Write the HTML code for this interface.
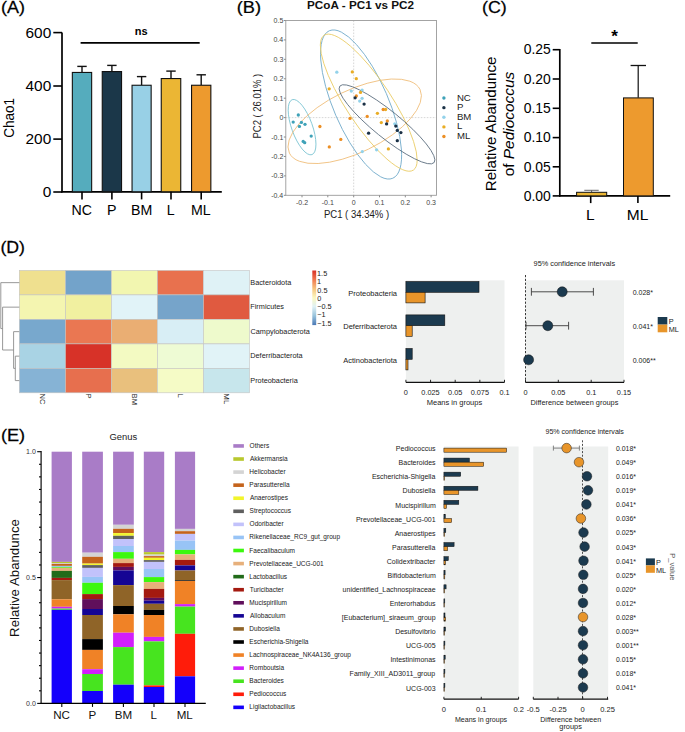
<!DOCTYPE html>
<html><head><meta charset="utf-8"><style>
html,body{margin:0;padding:0;background:#fff;}
svg{display:block;}
text{font-family:"Liberation Sans",sans-serif;}
</style></head><body>
<svg width="685" height="732" viewBox="0 0 685 732">
<rect width="685" height="732" fill="#fff"/>
<text transform="translate(1.09,13.00) scale(1.0558,1)" style="font-size:17px;" fill="#000" stroke="#000" stroke-width="0.25">(A)</text>
<line x1="62.00" y1="32.60" x2="62.00" y2="192.50" stroke="#000" stroke-width="1.7"/>
<line x1="53.30" y1="32.60" x2="62.00" y2="32.60" stroke="#000" stroke-width="1.6"/>
<text transform="translate(25.51,37.80)" style="font-size:15.4px;" fill="#000">600</text>
<line x1="53.30" y1="86.00" x2="62.00" y2="86.00" stroke="#000" stroke-width="1.6"/>
<text transform="translate(25.51,91.20)" style="font-size:15.4px;" fill="#000">400</text>
<line x1="53.30" y1="139.10" x2="62.00" y2="139.10" stroke="#000" stroke-width="1.6"/>
<text transform="translate(25.51,144.30)" style="font-size:15.4px;" fill="#000">200</text>
<line x1="53.30" y1="192.00" x2="62.00" y2="192.00" stroke="#000" stroke-width="1.6"/>
<text transform="translate(42.64,197.20)" style="font-size:15.4px;" fill="#000">0</text>
<line x1="61.20" y1="191.80" x2="221.80" y2="191.80" stroke="#000" stroke-width="1.7"/>
<line x1="82.00" y1="72.20" x2="82.00" y2="66.40" stroke="#111" stroke-width="1.4"/>
<line x1="77.30" y1="66.40" x2="86.70" y2="66.40" stroke="#111" stroke-width="1.4"/>
<rect x="72.35" y="72.45" width="19.30" height="119.35" fill="#55acbd" stroke="#111" stroke-width="1.1"/>
<line x1="82.00" y1="191.80" x2="82.00" y2="199.40" stroke="#000" stroke-width="1.6"/>
<text transform="translate(71.43,215.00)" style="font-size:14.2px;" fill="#000">NC</text>
<line x1="111.90" y1="71.30" x2="111.90" y2="65.40" stroke="#111" stroke-width="1.4"/>
<line x1="107.20" y1="65.40" x2="116.60" y2="65.40" stroke="#111" stroke-width="1.4"/>
<rect x="102.25" y="71.55" width="19.30" height="120.25" fill="#1b3749" stroke="#111" stroke-width="1.1"/>
<line x1="111.90" y1="191.80" x2="111.90" y2="199.40" stroke="#000" stroke-width="1.6"/>
<text transform="translate(106.96,215.00)" style="font-size:14.2px;" fill="#000">P</text>
<line x1="141.60" y1="85.00" x2="141.60" y2="76.60" stroke="#111" stroke-width="1.4"/>
<line x1="136.90" y1="76.60" x2="146.30" y2="76.60" stroke="#111" stroke-width="1.4"/>
<rect x="132.05" y="85.25" width="19.10" height="106.55" fill="#98d0e6" stroke="#111" stroke-width="1.1"/>
<line x1="141.60" y1="191.80" x2="141.60" y2="199.40" stroke="#000" stroke-width="1.6"/>
<text transform="translate(130.95,215.00)" style="font-size:14.2px;" fill="#000">BM</text>
<line x1="171.00" y1="78.30" x2="171.00" y2="71.10" stroke="#111" stroke-width="1.4"/>
<line x1="166.30" y1="71.10" x2="175.70" y2="71.10" stroke="#111" stroke-width="1.4"/>
<rect x="161.25" y="78.55" width="19.50" height="113.25" fill="#ebb634" stroke="#111" stroke-width="1.1"/>
<line x1="171.00" y1="191.80" x2="171.00" y2="199.40" stroke="#000" stroke-width="1.6"/>
<text transform="translate(166.70,215.00)" style="font-size:14.2px;" fill="#000">L</text>
<line x1="201.20" y1="85.00" x2="201.20" y2="74.80" stroke="#111" stroke-width="1.4"/>
<line x1="196.50" y1="74.80" x2="205.90" y2="74.80" stroke="#111" stroke-width="1.4"/>
<rect x="191.55" y="85.25" width="19.30" height="106.55" fill="#ed9a2e" stroke="#111" stroke-width="1.1"/>
<line x1="201.20" y1="191.80" x2="201.20" y2="199.40" stroke="#000" stroke-width="1.6"/>
<text transform="translate(190.99,215.00)" style="font-size:14.2px;" fill="#000">ML</text>
<text transform="translate(134.74,35.40)" style="font-size:11px;font-weight:bold;" fill="#000">ns</text>
<line x1="80.60" y1="42.80" x2="199.70" y2="42.80" stroke="#000" stroke-width="1.7"/>
<text transform="translate(13.90,137.69) rotate(-90) scale(0.9659,1)" style="font-size:14px;" fill="#000">Chao1</text>
<text transform="translate(236.67,12.80) scale(1.0753,1)" style="font-size:17px;" fill="#000" stroke="#000" stroke-width="0.25">(B)</text>
<text transform="translate(307.02,9.20) scale(1.0653,1)" style="font-size:11px;font-weight:bold;" fill="#111">PCoA - PC1 vs PC2</text>
<line x1="353.7" y1="20.5" x2="353.7" y2="195.3" stroke="#d2d2d2" stroke-width="0.9" stroke-dasharray="1.6,1.4"/>
<line x1="285.8" y1="117.6" x2="436.5" y2="117.6" stroke="#d2d2d2" stroke-width="0.9" stroke-dasharray="1.6,1.4"/>
<ellipse cx="302.07" cy="127.14" rx="29.20" ry="10.35" transform="rotate(-109.82 302.07 127.14)" fill="none" stroke="#78c2d1" stroke-width="0.8"/>
<ellipse cx="354.71" cy="121.28" rx="72.65" ry="31.07" transform="rotate(154.05 354.71 121.28)" fill="none" stroke="#efbd78" stroke-width="0.8"/>
<ellipse cx="361.07" cy="104.49" rx="80.29" ry="27.53" transform="rotate(-113.25 361.07 104.49)" fill="none" stroke="#6ea8c9" stroke-width="0.8"/>
<ellipse cx="368.75" cy="102.67" rx="80.85" ry="22.55" transform="rotate(-123.49 368.75 102.67)" fill="none" stroke="#eacb62" stroke-width="0.8"/>
<ellipse cx="387.00" cy="124.30" rx="60.70" ry="13.36" transform="rotate(-140.98 387.00 124.30)" fill="none" stroke="#56687a" stroke-width="0.8"/>
<circle cx="298.30" cy="115.00" r="1.65" fill="#3fa2b8"/>
<circle cx="293.20" cy="122.10" r="1.65" fill="#3fa2b8"/>
<circle cx="301.40" cy="122.40" r="1.65" fill="#3fa2b8"/>
<circle cx="305.00" cy="124.30" r="1.65" fill="#3fa2b8"/>
<circle cx="299.40" cy="126.40" r="1.65" fill="#3fa2b8"/>
<circle cx="311.20" cy="136.10" r="1.65" fill="#3fa2b8"/>
<circle cx="303.20" cy="141.40" r="1.65" fill="#3fa2b8"/>
<circle cx="304.70" cy="142.70" r="1.65" fill="#3fa2b8"/>
<circle cx="336.80" cy="72.20" r="1.65" fill="#93d2ea"/>
<circle cx="351.30" cy="91.10" r="1.65" fill="#93d2ea"/>
<circle cx="362.10" cy="90.10" r="1.65" fill="#93d2ea"/>
<circle cx="362.10" cy="98.30" r="1.65" fill="#93d2ea"/>
<circle cx="359.70" cy="101.10" r="1.65" fill="#93d2ea"/>
<circle cx="394.80" cy="123.80" r="1.65" fill="#93d2ea"/>
<circle cx="362.30" cy="151.60" r="1.65" fill="#93d2ea"/>
<circle cx="376.60" cy="149.80" r="1.65" fill="#93d2ea"/>
<circle cx="352.30" cy="71.90" r="1.65" fill="#e9ad25"/>
<circle cx="356.30" cy="78.70" r="1.65" fill="#e9ad25"/>
<circle cx="329.20" cy="88.80" r="1.65" fill="#e9ad25"/>
<circle cx="360.50" cy="92.40" r="1.65" fill="#e9ad25"/>
<circle cx="385.60" cy="109.50" r="1.65" fill="#e9ad25"/>
<circle cx="377.40" cy="113.30" r="1.65" fill="#e9ad25"/>
<circle cx="381.30" cy="122.60" r="1.65" fill="#e9ad25"/>
<circle cx="388.40" cy="148.90" r="1.65" fill="#e9ad25"/>
<circle cx="356.30" cy="96.00" r="1.65" fill="#ec8f25"/>
<circle cx="383.20" cy="109.50" r="1.65" fill="#ec8f25"/>
<circle cx="367.20" cy="116.40" r="1.65" fill="#ec8f25"/>
<circle cx="350.00" cy="118.40" r="1.65" fill="#ec8f25"/>
<circle cx="387.30" cy="121.00" r="1.65" fill="#ec8f25"/>
<circle cx="319.90" cy="126.50" r="1.65" fill="#ec8f25"/>
<circle cx="340.80" cy="139.40" r="1.65" fill="#ec8f25"/>
<circle cx="329.30" cy="146.90" r="1.65" fill="#ec8f25"/>
<circle cx="355.10" cy="97.80" r="1.65" fill="#1b3146"/>
<circle cx="364.10" cy="104.10" r="1.65" fill="#1b3146"/>
<circle cx="386.60" cy="123.90" r="1.65" fill="#1b3146"/>
<circle cx="395.80" cy="126.10" r="1.65" fill="#1b3146"/>
<circle cx="397.30" cy="130.40" r="1.65" fill="#1b3146"/>
<circle cx="400.90" cy="132.60" r="1.65" fill="#1b3146"/>
<circle cx="368.60" cy="133.20" r="1.65" fill="#1b3146"/>
<circle cx="397.30" cy="140.70" r="1.65" fill="#1b3146"/>
<rect x="285.8" y="20.5" width="150.7" height="174.8" fill="none" stroke="#9a9a9a" stroke-width="0.9"/>
<line x1="283.80" y1="20.50" x2="285.80" y2="20.50" stroke="#8a8a8a" stroke-width="1"/>
<text transform="translate(273.56,23.00)" style="font-size:7px;" fill="#444">0.5</text>
<line x1="283.80" y1="39.92" x2="285.80" y2="39.92" stroke="#8a8a8a" stroke-width="1"/>
<text transform="translate(273.47,42.42)" style="font-size:7px;" fill="#444">0.4</text>
<line x1="283.80" y1="59.34" x2="285.80" y2="59.34" stroke="#8a8a8a" stroke-width="1"/>
<text transform="translate(273.58,61.84)" style="font-size:7px;" fill="#444">0.3</text>
<line x1="283.80" y1="78.77" x2="285.80" y2="78.77" stroke="#8a8a8a" stroke-width="1"/>
<text transform="translate(273.62,81.27)" style="font-size:7px;" fill="#444">0.2</text>
<line x1="283.80" y1="98.19" x2="285.80" y2="98.19" stroke="#8a8a8a" stroke-width="1"/>
<text transform="translate(273.61,100.69)" style="font-size:7px;" fill="#444">0.1</text>
<line x1="283.80" y1="117.61" x2="285.80" y2="117.61" stroke="#8a8a8a" stroke-width="1"/>
<text transform="translate(279.38,120.11)" style="font-size:7px;" fill="#444">0</text>
<line x1="283.80" y1="137.03" x2="285.80" y2="137.03" stroke="#8a8a8a" stroke-width="1"/>
<text transform="translate(271.28,139.53)" style="font-size:7px;" fill="#444">-0.1</text>
<line x1="283.80" y1="156.46" x2="285.80" y2="156.46" stroke="#8a8a8a" stroke-width="1"/>
<text transform="translate(271.29,158.96)" style="font-size:7px;" fill="#444">-0.2</text>
<line x1="283.80" y1="175.88" x2="285.80" y2="175.88" stroke="#8a8a8a" stroke-width="1"/>
<text transform="translate(271.25,178.38)" style="font-size:7px;" fill="#444">-0.3</text>
<line x1="283.80" y1="195.30" x2="285.80" y2="195.30" stroke="#8a8a8a" stroke-width="1"/>
<text transform="translate(271.14,197.80)" style="font-size:7px;" fill="#444">-0.4</text>
<line x1="302.00" y1="195.30" x2="302.00" y2="197.30" stroke="#8a8a8a" stroke-width="1"/>
<text transform="translate(295.99,204.80)" style="font-size:7px;" fill="#444">-0.2</text>
<line x1="327.80" y1="195.30" x2="327.80" y2="197.30" stroke="#8a8a8a" stroke-width="1"/>
<text transform="translate(321.78,204.80)" style="font-size:7px;" fill="#444">-0.1</text>
<line x1="353.70" y1="195.30" x2="353.70" y2="197.30" stroke="#8a8a8a" stroke-width="1"/>
<text transform="translate(351.75,204.80)" style="font-size:7px;" fill="#444">0</text>
<line x1="379.50" y1="195.30" x2="379.50" y2="197.30" stroke="#8a8a8a" stroke-width="1"/>
<text transform="translate(374.67,204.80)" style="font-size:7px;" fill="#444">0.1</text>
<line x1="405.30" y1="195.30" x2="405.30" y2="197.30" stroke="#8a8a8a" stroke-width="1"/>
<text transform="translate(400.47,204.80)" style="font-size:7px;" fill="#444">0.2</text>
<line x1="431.10" y1="195.30" x2="431.10" y2="197.30" stroke="#8a8a8a" stroke-width="1"/>
<text transform="translate(426.25,204.80)" style="font-size:7px;" fill="#444">0.3</text>
<text transform="translate(323.92,218.00) scale(0.9548,1)" style="font-size:10px;" fill="#222">PC1 ( 34.34% )</text>
<text transform="translate(261.21,138.47) rotate(-90) scale(0.9360,1)" style="font-size:10.09px" fill="#222">PC2 ( 26.01% )</text>
<circle cx="443.90" cy="98.00" r="1.70" fill="#3fa2b8"/>
<text transform="translate(456.91,100.80)" style="font-size:9.6px;" fill="#222">NC</text>
<circle cx="443.90" cy="107.63" r="1.70" fill="#1b3146"/>
<text transform="translate(456.91,110.35)" style="font-size:9.6px;" fill="#222">P</text>
<circle cx="443.90" cy="117.26" r="1.70" fill="#93d2ea"/>
<text transform="translate(456.91,119.90)" style="font-size:9.6px;" fill="#222">BM</text>
<circle cx="443.90" cy="126.89" r="1.70" fill="#e9ad25"/>
<text transform="translate(456.91,129.45)" style="font-size:9.6px;" fill="#222">L</text>
<circle cx="443.90" cy="136.52" r="1.70" fill="#ec8f25"/>
<text transform="translate(456.91,139.00)" style="font-size:9.6px;" fill="#222">ML</text>
<text transform="translate(481.99,13.00) scale(1.0516,1)" style="font-size:17px;" fill="#000" stroke="#000" stroke-width="0.25">(C)</text>
<line x1="559.80" y1="49.00" x2="559.80" y2="196.60" stroke="#000" stroke-width="1.7"/>
<line x1="552.70" y1="49.70" x2="559.80" y2="49.70" stroke="#000" stroke-width="1.6"/>
<text transform="translate(523.73,54.40)" style="font-size:13.9px;" fill="#000">0.25</text>
<line x1="552.70" y1="79.00" x2="559.80" y2="79.00" stroke="#000" stroke-width="1.6"/>
<text transform="translate(523.69,83.70)" style="font-size:13.9px;" fill="#000">0.20</text>
<line x1="552.70" y1="108.30" x2="559.80" y2="108.30" stroke="#000" stroke-width="1.6"/>
<text transform="translate(523.73,113.00)" style="font-size:13.9px;" fill="#000">0.15</text>
<line x1="552.70" y1="137.60" x2="559.80" y2="137.60" stroke="#000" stroke-width="1.6"/>
<text transform="translate(523.69,142.30)" style="font-size:13.9px;" fill="#000">0.10</text>
<line x1="552.70" y1="166.80" x2="559.80" y2="166.80" stroke="#000" stroke-width="1.6"/>
<text transform="translate(523.73,171.50)" style="font-size:13.9px;" fill="#000">0.05</text>
<line x1="552.70" y1="195.90" x2="559.80" y2="195.90" stroke="#000" stroke-width="1.6"/>
<text transform="translate(523.69,200.60)" style="font-size:13.9px;" fill="#000">0.00</text>
<line x1="559.00" y1="195.90" x2="670.20" y2="195.90" stroke="#000" stroke-width="1.7"/>
<line x1="591.60" y1="192.20" x2="591.60" y2="190.30" stroke="#555" stroke-width="0.9"/>
<line x1="584.30" y1="190.30" x2="598.70" y2="190.30" stroke="#555" stroke-width="0.9"/>
<rect x="576.60" y="192.30" width="30.10" height="3.60" fill="#ebb634" stroke="#111" stroke-width="1.0"/>
<line x1="638.20" y1="97.70" x2="638.20" y2="65.50" stroke="#111" stroke-width="1.2"/>
<line x1="630.60" y1="65.50" x2="646.00" y2="65.50" stroke="#111" stroke-width="1.3"/>
<rect x="623.50" y="97.90" width="29.80" height="98.00" fill="#ed9a2e" stroke="#111" stroke-width="1.0"/>
<line x1="590.70" y1="195.90" x2="590.70" y2="203.10" stroke="#000" stroke-width="1.6"/>
<text transform="translate(586.01,219.50)" style="font-size:15.5px;" fill="#000">L</text>
<line x1="637.90" y1="195.90" x2="637.90" y2="203.10" stroke="#000" stroke-width="1.6"/>
<text transform="translate(626.76,219.50)" style="font-size:15.5px;" fill="#000">ML</text>
<line x1="591.30" y1="43.00" x2="637.70" y2="43.00" stroke="#000" stroke-width="1.7"/>
<text transform="translate(611.35,42.03) scale(0.9960,1)" style="font-size:17.20px" fill="#000"><tspan style="font-weight:bold;">*</tspan></text>
<text transform="translate(496.25,191.24) rotate(-90) scale(0.9768,1)" style="font-size:15.52px" fill="#000">Relative Abandunce</text>
<text transform="translate(513.85,176.35) rotate(-90) scale(1.0599,1)" style="font-size:14.56px" fill="#000">of <tspan style="font-style:italic;">Pediococcus</tspan></text>
<text transform="translate(0.40,252.80) scale(1.0423,1)" style="font-size:17px;" fill="#000" stroke="#000" stroke-width="0.25">(D)</text>
<rect x="19.30" y="270.40" width="46.20" height="24.50" fill="#efe08f" stroke="#c4c4c4" stroke-width="0.6"/>
<rect x="65.50" y="270.40" width="46.00" height="24.50" fill="#73a3ca" stroke="#c4c4c4" stroke-width="0.6"/>
<rect x="111.50" y="270.40" width="45.90" height="24.50" fill="#f2f6b0" stroke="#c4c4c4" stroke-width="0.6"/>
<rect x="157.40" y="270.40" width="46.00" height="24.50" fill="#e8714e" stroke="#c4c4c4" stroke-width="0.6"/>
<rect x="203.40" y="270.40" width="46.20" height="24.50" fill="#dff2f6" stroke="#c4c4c4" stroke-width="0.6"/>
<rect x="19.30" y="294.90" width="46.20" height="24.50" fill="#f4f5b0" stroke="#c4c4c4" stroke-width="0.6"/>
<rect x="65.50" y="294.90" width="46.00" height="24.50" fill="#f1f0a0" stroke="#c4c4c4" stroke-width="0.6"/>
<rect x="111.50" y="294.90" width="45.90" height="24.50" fill="#e1f3f8" stroke="#c4c4c4" stroke-width="0.6"/>
<rect x="157.40" y="294.90" width="46.00" height="24.50" fill="#76a4ca" stroke="#c4c4c4" stroke-width="0.6"/>
<rect x="203.40" y="294.90" width="46.20" height="24.50" fill="#e05a40" stroke="#c4c4c4" stroke-width="0.6"/>
<rect x="19.30" y="319.40" width="46.20" height="24.50" fill="#78a8cd" stroke="#c4c4c4" stroke-width="0.6"/>
<rect x="65.50" y="319.40" width="46.00" height="24.50" fill="#ea7752" stroke="#c4c4c4" stroke-width="0.6"/>
<rect x="111.50" y="319.40" width="45.90" height="24.50" fill="#eaae73" stroke="#c4c4c4" stroke-width="0.6"/>
<rect x="157.40" y="319.40" width="46.00" height="24.50" fill="#d8eef5" stroke="#c4c4c4" stroke-width="0.6"/>
<rect x="203.40" y="319.40" width="46.20" height="24.50" fill="#eefacc" stroke="#c4c4c4" stroke-width="0.6"/>
<rect x="19.30" y="343.90" width="46.20" height="24.50" fill="#a9d3e4" stroke="#c4c4c4" stroke-width="0.6"/>
<rect x="65.50" y="343.90" width="46.00" height="24.50" fill="#d73228" stroke="#c4c4c4" stroke-width="0.6"/>
<rect x="111.50" y="343.90" width="45.90" height="24.50" fill="#f3fac2" stroke="#c4c4c4" stroke-width="0.6"/>
<rect x="157.40" y="343.90" width="46.00" height="24.50" fill="#eefbd4" stroke="#c4c4c4" stroke-width="0.6"/>
<rect x="203.40" y="343.90" width="46.20" height="24.50" fill="#e1f3f7" stroke="#c4c4c4" stroke-width="0.6"/>
<rect x="19.30" y="368.40" width="46.20" height="24.40" fill="#86b3d5" stroke="#c4c4c4" stroke-width="0.6"/>
<rect x="65.50" y="368.40" width="46.00" height="24.40" fill="#e76f4e" stroke="#c4c4c4" stroke-width="0.6"/>
<rect x="111.50" y="368.40" width="45.90" height="24.40" fill="#e9c07d" stroke="#c4c4c4" stroke-width="0.6"/>
<rect x="157.40" y="368.40" width="46.00" height="24.40" fill="#f5fbc6" stroke="#c4c4c4" stroke-width="0.6"/>
<rect x="203.40" y="368.40" width="46.20" height="24.40" fill="#c7e6ec" stroke="#c4c4c4" stroke-width="0.6"/>
<line x1="15.30" y1="356.15" x2="19.30" y2="356.15" stroke="#8c8c8c" stroke-width="0.9"/>
<line x1="15.30" y1="380.60" x2="19.30" y2="380.60" stroke="#8c8c8c" stroke-width="0.9"/>
<line x1="15.30" y1="356.15" x2="15.30" y2="380.60" stroke="#8c8c8c" stroke-width="0.9"/>
<line x1="13.60" y1="331.65" x2="19.30" y2="331.65" stroke="#8c8c8c" stroke-width="0.9"/>
<line x1="13.60" y1="368.38" x2="15.30" y2="368.38" stroke="#8c8c8c" stroke-width="0.9"/>
<line x1="13.60" y1="331.65" x2="13.60" y2="368.38" stroke="#8c8c8c" stroke-width="0.9"/>
<line x1="2.60" y1="307.15" x2="19.30" y2="307.15" stroke="#8c8c8c" stroke-width="0.9"/>
<line x1="2.60" y1="350.01" x2="13.60" y2="350.01" stroke="#8c8c8c" stroke-width="0.9"/>
<line x1="2.60" y1="307.15" x2="2.60" y2="350.01" stroke="#8c8c8c" stroke-width="0.9"/>
<line x1="0.80" y1="282.65" x2="19.30" y2="282.65" stroke="#8c8c8c" stroke-width="0.9"/>
<line x1="0.80" y1="328.58" x2="2.60" y2="328.58" stroke="#8c8c8c" stroke-width="0.9"/>
<line x1="0.80" y1="282.65" x2="0.80" y2="328.58" stroke="#8c8c8c" stroke-width="0.9"/>
<text transform="translate(250.30,284.95) scale(0.9620,1)" style="font-size:7.6px;" fill="#1a1a1a">Bacteroidota</text>
<text transform="translate(250.30,309.45) scale(0.9620,1)" style="font-size:7.6px;" fill="#1a1a1a">Firmicutes</text>
<text transform="translate(250.53,333.95) scale(0.9620,1)" style="font-size:7.6px;" fill="#1a1a1a">Campylobacterota</text>
<text transform="translate(250.30,358.45) scale(0.9620,1)" style="font-size:7.6px;" fill="#1a1a1a">Deferribacterota</text>
<text transform="translate(250.30,382.90) scale(0.9620,1)" style="font-size:7.6px;" fill="#1a1a1a">Proteobacteria</text>
<text transform="translate(39.80,393.58) rotate(90)" style="font-size:7.6px" fill="#1a1a1a">NC</text>
<text transform="translate(85.90,393.58) rotate(90)" style="font-size:7.6px" fill="#1a1a1a">P</text>
<text transform="translate(131.85,393.58) rotate(90)" style="font-size:7.6px" fill="#1a1a1a">BM</text>
<text transform="translate(177.80,393.58) rotate(90)" style="font-size:7.6px" fill="#1a1a1a">L</text>
<text transform="translate(223.90,393.58) rotate(90)" style="font-size:7.6px" fill="#1a1a1a">ML</text>
<defs><linearGradient id="rdylbu" x1="0" y1="0" x2="0" y2="1"><stop offset="0" stop-color="#d73027"/><stop offset="0.17" stop-color="#f07a50"/><stop offset="0.34" stop-color="#f6c680"/><stop offset="0.5" stop-color="#fbf8c0"/><stop offset="0.66" stop-color="#e0f1f5"/><stop offset="0.83" stop-color="#98c3dc"/><stop offset="1" stop-color="#4a78b5"/></linearGradient></defs>
<rect x="312.30" y="270.50" width="3.90" height="54.60" fill="url(#rdylbu)"/>
<text transform="translate(317.04,275.90)" style="font-size:7.3px;" fill="#1a1a1a">1.5</text>
<text transform="translate(317.04,284.20)" style="font-size:7.3px;" fill="#1a1a1a">1</text>
<text transform="translate(317.31,292.50)" style="font-size:7.3px;" fill="#1a1a1a">0.5</text>
<text transform="translate(317.31,300.80)" style="font-size:7.3px;" fill="#1a1a1a">0</text>
<text transform="translate(317.24,309.10)" style="font-size:7.3px;" fill="#1a1a1a">−0.5</text>
<text transform="translate(317.24,317.40)" style="font-size:7.3px;" fill="#1a1a1a">−1</text>
<text transform="translate(317.24,325.70)" style="font-size:7.3px;" fill="#1a1a1a">−1.5</text>
<rect x="405.90" y="280.30" width="98.60" height="102.00" fill="#eef0ef"/>
<rect x="525.50" y="280.30" width="98.50" height="102.00" fill="#eef0ef"/>
<rect x="405.90" y="281.50" width="73.10" height="10.80" fill="#1b3a4f" stroke="#111" stroke-width="0.6"/>
<rect x="405.90" y="292.30" width="19.20" height="10.60" fill="#e8952a" stroke="#111" stroke-width="0.6"/>
<text transform="translate(348.22,295.90)" style="font-size:7.5px;" fill="#1a1a1a">Proteobacteria</text>
<rect x="405.90" y="314.90" width="38.90" height="10.80" fill="#1b3a4f" stroke="#111" stroke-width="0.6"/>
<rect x="405.90" y="325.70" width="6.30" height="10.60" fill="#e8952a" stroke="#111" stroke-width="0.6"/>
<text transform="translate(343.23,329.30)" style="font-size:7.5px;" fill="#1a1a1a">Deferribacterota</text>
<rect x="405.90" y="348.50" width="6.30" height="10.80" fill="#1b3a4f" stroke="#111" stroke-width="0.6"/>
<rect x="405.90" y="359.30" width="2.10" height="10.60" fill="#e8952a" stroke="#111" stroke-width="0.6"/>
<text transform="translate(343.22,362.90)" style="font-size:7.5px;" fill="#1a1a1a">Actinobacteriota</text>
<line x1="405.90" y1="382.30" x2="504.50" y2="382.30" stroke="#111" stroke-width="1.2"/>
<line x1="405.90" y1="379.80" x2="405.90" y2="382.30" stroke="#111" stroke-width="0.9"/>
<text transform="translate(403.86,394.90) scale(1.0500,1)" style="font-size:7.0px;" fill="#222">0</text>
<line x1="430.55" y1="379.80" x2="430.55" y2="382.30" stroke="#111" stroke-width="0.9"/>
<text transform="translate(421.36,394.90) scale(1.0500,1)" style="font-size:7.0px;" fill="#222">0.025</text>
<line x1="455.20" y1="379.80" x2="455.20" y2="382.30" stroke="#111" stroke-width="0.9"/>
<text transform="translate(448.06,394.90) scale(1.0500,1)" style="font-size:7.0px;" fill="#222">0.05</text>
<line x1="479.85" y1="379.80" x2="479.85" y2="382.30" stroke="#111" stroke-width="0.9"/>
<text transform="translate(470.66,394.90) scale(1.0500,1)" style="font-size:7.0px;" fill="#222">0.075</text>
<line x1="504.50" y1="379.80" x2="504.50" y2="382.30" stroke="#111" stroke-width="0.9"/>
<text transform="translate(499.43,394.90) scale(1.0500,1)" style="font-size:7.0px;" fill="#222">0.1</text>
<text transform="translate(426.78,404.60) scale(1.0161,1)" style="font-size:7.4px;" fill="#222">Means in groups</text>
<line x1="525.5" y1="275" x2="525.5" y2="382.3" stroke="#222" stroke-width="0.9" stroke-dasharray="2.2,1.6"/>
<line x1="531.40" y1="291.80" x2="593.40" y2="291.80" stroke="#3a3a3a" stroke-width="0.9"/>
<line x1="531.40" y1="287.90" x2="531.40" y2="295.70" stroke="#3a3a3a" stroke-width="0.9"/>
<line x1="593.40" y1="287.90" x2="593.40" y2="295.70" stroke="#3a3a3a" stroke-width="0.9"/>
<circle cx="562.20" cy="291.80" r="5.00" fill="#1b3a4f" stroke="#111" stroke-width="0.5"/>
<line x1="526.00" y1="325.70" x2="568.60" y2="325.70" stroke="#3a3a3a" stroke-width="0.9"/>
<line x1="526.00" y1="321.80" x2="526.00" y2="329.60" stroke="#3a3a3a" stroke-width="0.9"/>
<line x1="568.60" y1="321.80" x2="568.60" y2="329.60" stroke="#3a3a3a" stroke-width="0.9"/>
<circle cx="547.80" cy="325.70" r="5.00" fill="#1b3a4f" stroke="#111" stroke-width="0.5"/>
<circle cx="528.60" cy="359.80" r="5.00" fill="#1b3a4f" stroke="#111" stroke-width="0.5"/>
<line x1="525.50" y1="382.30" x2="624.00" y2="382.30" stroke="#111" stroke-width="1.2"/>
<line x1="525.50" y1="379.80" x2="525.50" y2="382.30" stroke="#111" stroke-width="0.9"/>
<text transform="translate(523.46,394.90) scale(1.0500,1)" style="font-size:7.0px;" fill="#222">0</text>
<line x1="558.30" y1="379.80" x2="558.30" y2="382.30" stroke="#111" stroke-width="0.9"/>
<text transform="translate(551.16,394.90) scale(1.0500,1)" style="font-size:7.0px;" fill="#222">0.05</text>
<line x1="591.20" y1="379.80" x2="591.20" y2="382.30" stroke="#111" stroke-width="0.9"/>
<text transform="translate(586.13,394.90) scale(1.0500,1)" style="font-size:7.0px;" fill="#222">0.1</text>
<line x1="624.00" y1="379.80" x2="624.00" y2="382.30" stroke="#111" stroke-width="0.9"/>
<text transform="translate(616.86,394.90) scale(1.0500,1)" style="font-size:7.0px;" fill="#222">0.15</text>
<text transform="translate(530.49,404.60) scale(0.9969,1)" style="font-size:7.4px;" fill="#222">Difference between groups</text>
<text transform="translate(533.56,265.60) scale(1.0055,1)" style="font-size:7.3px;" fill="#222">95% confidence intervals</text>
<text transform="translate(632.73,295.10)" style="font-size:7.0px;" fill="#222">0.028*</text>
<text transform="translate(632.73,329.20)" style="font-size:7.0px;" fill="#222">0.041*</text>
<text transform="translate(632.73,362.90)" style="font-size:7.0px;" fill="#222">0.006**</text>
<rect x="657.70" y="317.00" width="9.60" height="7.60" fill="#1b3a4f"/>
<rect x="657.70" y="324.60" width="9.60" height="7.70" fill="#e8952a"/>
<text transform="translate(668.70,324.40)" style="font-size:7.3px;" fill="#222">P</text>
<text transform="translate(668.70,332.10)" style="font-size:7.3px;" fill="#222">ML</text>
<text transform="translate(0.88,440.90) scale(1.0656,1)" style="font-size:17px;" fill="#000" stroke="#000" stroke-width="0.25">(E)</text>
<text transform="translate(109.43,439.81) scale(0.9940,1)" style="font-size:9.46px" fill="#222">Genus</text>
<rect x="51.60" y="451.70" width="20.30" height="110.20" fill="#a97cc7"/>
<rect x="51.60" y="561.90" width="20.30" height="1.10" fill="#b8c82e"/>
<rect x="51.60" y="563.00" width="20.30" height="0.90" fill="#d4d4d4"/>
<rect x="51.60" y="563.90" width="20.30" height="2.00" fill="#c4631c"/>
<rect x="51.60" y="565.90" width="20.30" height="1.00" fill="#98c4f6"/>
<rect x="51.60" y="566.90" width="20.30" height="0.90" fill="#3cf80e"/>
<rect x="51.60" y="567.80" width="20.30" height="3.10" fill="#e7b07b"/>
<rect x="51.60" y="570.90" width="20.30" height="7.00" fill="#216b19"/>
<rect x="51.60" y="577.90" width="20.30" height="2.20" fill="#a41a10"/>
<rect x="51.60" y="580.10" width="20.30" height="19.20" fill="#8f6428"/>
<rect x="51.60" y="599.30" width="20.30" height="7.50" fill="#f08226"/>
<rect x="51.60" y="606.80" width="20.30" height="1.80" fill="#d21ffb"/>
<rect x="51.60" y="608.60" width="20.30" height="1.20" fill="#47e41f"/>
<rect x="51.60" y="609.80" width="20.30" height="93.60" fill="#1400fb"/>
<rect x="82.20" y="451.70" width="20.70" height="101.00" fill="#a97cc7"/>
<rect x="82.20" y="552.70" width="20.70" height="4.10" fill="#d4d4d4"/>
<rect x="82.20" y="556.80" width="20.70" height="6.80" fill="#c4631c"/>
<rect x="82.20" y="563.60" width="20.70" height="1.50" fill="#f2f52c"/>
<rect x="82.20" y="565.10" width="20.70" height="2.80" fill="#5f5f5f"/>
<rect x="82.20" y="567.90" width="20.70" height="9.00" fill="#c2c2fb"/>
<rect x="82.20" y="576.90" width="20.70" height="5.90" fill="#98c4f6"/>
<rect x="82.20" y="582.80" width="20.70" height="11.30" fill="#3cf80e"/>
<rect x="82.20" y="594.10" width="20.70" height="5.00" fill="#a41a10"/>
<rect x="82.20" y="599.10" width="20.70" height="9.90" fill="#600f5b"/>
<rect x="82.20" y="609.00" width="20.70" height="6.00" fill="#150594"/>
<rect x="82.20" y="615.00" width="20.70" height="24.10" fill="#8f6428"/>
<rect x="82.20" y="639.10" width="20.70" height="10.80" fill="#000000"/>
<rect x="82.20" y="649.90" width="20.70" height="19.30" fill="#f08226"/>
<rect x="82.20" y="669.20" width="20.70" height="4.80" fill="#d21ffb"/>
<rect x="82.20" y="674.00" width="20.70" height="17.00" fill="#47e41f"/>
<rect x="82.20" y="691.00" width="20.70" height="12.40" fill="#1400fb"/>
<rect x="113.10" y="451.70" width="20.70" height="73.10" fill="#a97cc7"/>
<rect x="113.10" y="524.80" width="20.70" height="4.00" fill="#d4d4d4"/>
<rect x="113.10" y="528.80" width="20.70" height="4.30" fill="#c4631c"/>
<rect x="113.10" y="533.10" width="20.70" height="2.70" fill="#f2f52c"/>
<rect x="113.10" y="535.80" width="20.70" height="3.20" fill="#5f5f5f"/>
<rect x="113.10" y="539.00" width="20.70" height="7.00" fill="#c2c2fb"/>
<rect x="113.10" y="546.00" width="20.70" height="6.10" fill="#98c4f6"/>
<rect x="113.10" y="552.10" width="20.70" height="6.70" fill="#3cf80e"/>
<rect x="113.10" y="558.80" width="20.70" height="4.30" fill="#e7b07b"/>
<rect x="113.10" y="563.10" width="20.70" height="3.80" fill="#a41a10"/>
<rect x="113.10" y="566.90" width="20.70" height="3.50" fill="#600f5b"/>
<rect x="113.10" y="570.40" width="20.70" height="14.70" fill="#150594"/>
<rect x="113.10" y="585.10" width="20.70" height="20.90" fill="#8f6428"/>
<rect x="113.10" y="606.00" width="20.70" height="8.30" fill="#000000"/>
<rect x="113.10" y="614.30" width="20.70" height="18.40" fill="#f08226"/>
<rect x="113.10" y="632.70" width="20.70" height="14.40" fill="#d21ffb"/>
<rect x="113.10" y="647.10" width="20.70" height="37.60" fill="#47e41f"/>
<rect x="113.10" y="684.70" width="20.70" height="18.70" fill="#1400fb"/>
<rect x="143.80" y="451.70" width="20.40" height="100.40" fill="#a97cc7"/>
<rect x="143.80" y="552.10" width="20.40" height="2.50" fill="#b8c82e"/>
<rect x="143.80" y="554.60" width="20.40" height="1.50" fill="#d4d4d4"/>
<rect x="143.80" y="556.10" width="20.40" height="1.70" fill="#c4631c"/>
<rect x="143.80" y="557.80" width="20.40" height="2.30" fill="#f2f52c"/>
<rect x="143.80" y="560.10" width="20.40" height="1.80" fill="#5f5f5f"/>
<rect x="143.80" y="561.90" width="20.40" height="7.10" fill="#c2c2fb"/>
<rect x="143.80" y="569.00" width="20.40" height="8.10" fill="#98c4f6"/>
<rect x="143.80" y="577.10" width="20.40" height="5.00" fill="#3cf80e"/>
<rect x="143.80" y="582.10" width="20.40" height="6.80" fill="#e7b07b"/>
<rect x="143.80" y="588.90" width="20.40" height="9.00" fill="#a41a10"/>
<rect x="143.80" y="597.90" width="20.40" height="2.80" fill="#600f5b"/>
<rect x="143.80" y="600.70" width="20.40" height="3.10" fill="#150594"/>
<rect x="143.80" y="603.80" width="20.40" height="6.10" fill="#8f6428"/>
<rect x="143.80" y="609.90" width="20.40" height="5.10" fill="#000000"/>
<rect x="143.80" y="615.00" width="20.40" height="21.90" fill="#f08226"/>
<rect x="143.80" y="636.90" width="20.40" height="4.50" fill="#d21ffb"/>
<rect x="143.80" y="641.40" width="20.40" height="44.00" fill="#47e41f"/>
<rect x="143.80" y="685.40" width="20.40" height="1.60" fill="#ff1c0a"/>
<rect x="143.80" y="687.00" width="20.40" height="16.40" fill="#1400fb"/>
<rect x="174.90" y="451.70" width="20.20" height="77.20" fill="#a97cc7"/>
<rect x="174.90" y="528.90" width="20.20" height="2.30" fill="#d4d4d4"/>
<rect x="174.90" y="531.20" width="20.20" height="2.70" fill="#c4631c"/>
<rect x="174.90" y="533.90" width="20.20" height="6.70" fill="#c2c2fb"/>
<rect x="174.90" y="540.60" width="20.20" height="9.30" fill="#98c4f6"/>
<rect x="174.90" y="549.90" width="20.20" height="4.50" fill="#3cf80e"/>
<rect x="174.90" y="554.40" width="20.20" height="5.50" fill="#e7b07b"/>
<rect x="174.90" y="559.90" width="20.20" height="5.10" fill="#a41a10"/>
<rect x="174.90" y="565.00" width="20.20" height="0.60" fill="#600f5b"/>
<rect x="174.90" y="565.60" width="20.20" height="4.90" fill="#150594"/>
<rect x="174.90" y="570.50" width="20.20" height="9.80" fill="#8f6428"/>
<rect x="174.90" y="580.30" width="20.20" height="0.70" fill="#000000"/>
<rect x="174.90" y="581.00" width="20.20" height="23.10" fill="#f08226"/>
<rect x="174.90" y="604.10" width="20.20" height="2.50" fill="#d21ffb"/>
<rect x="174.90" y="606.60" width="20.20" height="27.20" fill="#47e41f"/>
<rect x="174.90" y="633.80" width="20.20" height="42.50" fill="#ff1c0a"/>
<rect x="174.90" y="676.30" width="20.20" height="27.10" fill="#1400fb"/>
<line x1="41.10" y1="451.00" x2="41.10" y2="703.90" stroke="#000" stroke-width="1.15"/>
<line x1="37.20" y1="451.70" x2="41.10" y2="451.70" stroke="#000" stroke-width="1.1"/>
<line x1="39.00" y1="464.28" x2="41.10" y2="464.28" stroke="#000" stroke-width="1.1"/>
<line x1="39.00" y1="476.87" x2="41.10" y2="476.87" stroke="#000" stroke-width="1.1"/>
<line x1="39.00" y1="489.45" x2="41.10" y2="489.45" stroke="#000" stroke-width="1.1"/>
<line x1="39.00" y1="502.04" x2="41.10" y2="502.04" stroke="#000" stroke-width="1.1"/>
<line x1="39.00" y1="514.62" x2="41.10" y2="514.62" stroke="#000" stroke-width="1.1"/>
<line x1="39.00" y1="527.21" x2="41.10" y2="527.21" stroke="#000" stroke-width="1.1"/>
<line x1="39.00" y1="539.79" x2="41.10" y2="539.79" stroke="#000" stroke-width="1.1"/>
<line x1="39.00" y1="552.38" x2="41.10" y2="552.38" stroke="#000" stroke-width="1.1"/>
<line x1="39.00" y1="564.96" x2="41.10" y2="564.96" stroke="#000" stroke-width="1.1"/>
<line x1="37.20" y1="577.55" x2="41.10" y2="577.55" stroke="#000" stroke-width="1.1"/>
<line x1="39.00" y1="590.13" x2="41.10" y2="590.13" stroke="#000" stroke-width="1.1"/>
<line x1="39.00" y1="602.72" x2="41.10" y2="602.72" stroke="#000" stroke-width="1.1"/>
<line x1="39.00" y1="615.30" x2="41.10" y2="615.30" stroke="#000" stroke-width="1.1"/>
<line x1="39.00" y1="627.89" x2="41.10" y2="627.89" stroke="#000" stroke-width="1.1"/>
<line x1="39.00" y1="640.48" x2="41.10" y2="640.48" stroke="#000" stroke-width="1.1"/>
<line x1="39.00" y1="653.06" x2="41.10" y2="653.06" stroke="#000" stroke-width="1.1"/>
<line x1="39.00" y1="665.64" x2="41.10" y2="665.64" stroke="#000" stroke-width="1.1"/>
<line x1="39.00" y1="678.23" x2="41.10" y2="678.23" stroke="#000" stroke-width="1.1"/>
<line x1="39.00" y1="690.82" x2="41.10" y2="690.82" stroke="#000" stroke-width="1.1"/>
<line x1="37.20" y1="703.40" x2="41.10" y2="703.40" stroke="#000" stroke-width="1.1"/>
<text transform="translate(26.09,454.00) scale(1.1000,1)" style="font-size:6.4px;" fill="#333">1.0</text>
<text transform="translate(26.11,579.85) scale(1.1000,1)" style="font-size:6.4px;" fill="#333">0.5</text>
<text transform="translate(26.09,705.70) scale(1.1000,1)" style="font-size:6.4px;" fill="#333">0.0</text>
<line x1="40.60" y1="703.30" x2="205.80" y2="703.30" stroke="#000" stroke-width="1.15"/>
<line x1="61.80" y1="703.30" x2="61.80" y2="706.90" stroke="#000" stroke-width="1.1"/>
<text transform="translate(53.17,719.10)" style="font-size:11.6px;" fill="#111">NC</text>
<line x1="92.50" y1="703.30" x2="92.50" y2="706.90" stroke="#000" stroke-width="1.1"/>
<text transform="translate(88.46,719.10)" style="font-size:11.6px;" fill="#111">P</text>
<line x1="123.40" y1="703.30" x2="123.40" y2="706.90" stroke="#000" stroke-width="1.1"/>
<text transform="translate(114.70,719.10)" style="font-size:11.6px;" fill="#111">BM</text>
<line x1="154.00" y1="703.30" x2="154.00" y2="706.90" stroke="#000" stroke-width="1.1"/>
<text transform="translate(150.49,719.10)" style="font-size:11.6px;" fill="#111">L</text>
<line x1="185.00" y1="703.30" x2="185.00" y2="706.90" stroke="#000" stroke-width="1.1"/>
<text transform="translate(176.66,719.10)" style="font-size:11.6px;" fill="#111">ML</text>
<text transform="translate(19.48,636.89) rotate(-90) scale(1.0367,1)" style="font-size:12.80px" fill="#111">Relative Abandunce</text>
<rect x="233.30" y="444.15" width="10.60" height="3.60" fill="#a97cc7"/>
<text transform="translate(249.59,448.00) scale(0.9200,1)" style="font-size:7.1px;" fill="#1a1a1a">Others</text>
<rect x="233.30" y="457.22" width="10.60" height="3.60" fill="#b8c82e"/>
<text transform="translate(249.89,461.07) scale(0.9200,1)" style="font-size:7.1px;" fill="#1a1a1a">Akkermansia</text>
<rect x="233.30" y="470.29" width="10.60" height="3.60" fill="#d4d4d4"/>
<text transform="translate(249.36,474.14) scale(0.9200,1)" style="font-size:7.1px;" fill="#1a1a1a">Helicobacter</text>
<rect x="233.30" y="483.36" width="10.60" height="3.60" fill="#c4631c"/>
<text transform="translate(249.36,487.21) scale(0.9200,1)" style="font-size:7.1px;" fill="#1a1a1a">Parasutterella</text>
<rect x="233.30" y="496.43" width="10.60" height="3.60" fill="#f2f52c"/>
<text transform="translate(249.89,500.28) scale(0.9200,1)" style="font-size:7.1px;" fill="#1a1a1a">Anaerostipes</text>
<rect x="233.30" y="509.50" width="10.60" height="3.60" fill="#5f5f5f"/>
<text transform="translate(249.60,513.35) scale(0.9200,1)" style="font-size:7.1px;" fill="#1a1a1a">Streptococcus</text>
<rect x="233.30" y="522.57" width="10.60" height="3.60" fill="#c2c2fb"/>
<text transform="translate(249.59,526.42) scale(0.9200,1)" style="font-size:7.1px;" fill="#1a1a1a">Odoribacter</text>
<rect x="233.30" y="535.64" width="10.60" height="3.60" fill="#98c4f6"/>
<text transform="translate(249.36,539.49) scale(0.9200,1)" style="font-size:7.1px;" fill="#1a1a1a">Rikenellaceae_RC9_gut_group</text>
<rect x="233.30" y="548.71" width="10.60" height="3.60" fill="#3cf80e"/>
<text transform="translate(249.36,552.56) scale(0.9200,1)" style="font-size:7.1px;" fill="#1a1a1a">Faecalibaculum</text>
<rect x="233.30" y="561.78" width="10.60" height="3.60" fill="#e7b07b"/>
<text transform="translate(249.36,565.63) scale(0.9200,1)" style="font-size:7.1px;" fill="#1a1a1a">Prevotellaceae_UCG-001</text>
<rect x="233.30" y="574.85" width="10.60" height="3.60" fill="#216b19"/>
<text transform="translate(249.36,578.70) scale(0.9200,1)" style="font-size:7.1px;" fill="#1a1a1a">Lactobacillus</text>
<rect x="233.30" y="587.92" width="10.60" height="3.60" fill="#a41a10"/>
<text transform="translate(249.75,591.77) scale(0.9200,1)" style="font-size:7.1px;" fill="#1a1a1a">Turicibacter</text>
<rect x="233.30" y="600.99" width="10.60" height="3.60" fill="#600f5b"/>
<text transform="translate(249.36,604.84) scale(0.9200,1)" style="font-size:7.1px;" fill="#1a1a1a">Mucispirillum</text>
<rect x="233.30" y="614.06" width="10.60" height="3.60" fill="#150594"/>
<text transform="translate(249.89,617.91) scale(0.9200,1)" style="font-size:7.1px;" fill="#1a1a1a">Allobaculum</text>
<rect x="233.30" y="627.13" width="10.60" height="3.60" fill="#8f6428"/>
<text transform="translate(249.36,630.98) scale(0.9200,1)" style="font-size:7.1px;" fill="#1a1a1a">Dubosiella</text>
<rect x="233.30" y="640.20" width="10.60" height="3.60" fill="#000000"/>
<text transform="translate(249.36,644.05) scale(0.9200,1)" style="font-size:7.1px;" fill="#1a1a1a">Escherichia-Shigella</text>
<rect x="233.30" y="653.27" width="10.60" height="3.60" fill="#f08226"/>
<text transform="translate(249.36,657.12) scale(0.9200,1)" style="font-size:7.1px;" fill="#1a1a1a">Lachnospiraceae_NK4A136_group</text>
<rect x="233.30" y="666.34" width="10.60" height="3.60" fill="#d21ffb"/>
<text transform="translate(249.36,670.19) scale(0.9200,1)" style="font-size:7.1px;" fill="#1a1a1a">Romboutsia</text>
<rect x="233.30" y="679.41" width="10.60" height="3.60" fill="#47e41f"/>
<text transform="translate(249.36,683.26) scale(0.9200,1)" style="font-size:7.1px;" fill="#1a1a1a">Bacteroides</text>
<rect x="233.30" y="692.48" width="10.60" height="3.60" fill="#ff1c0a"/>
<text transform="translate(249.36,696.33) scale(0.9200,1)" style="font-size:7.1px;" fill="#1a1a1a">Pediococcus</text>
<rect x="233.30" y="705.55" width="10.60" height="3.60" fill="#1400fb"/>
<text transform="translate(249.36,709.40) scale(0.9200,1)" style="font-size:7.1px;" fill="#1a1a1a">Ligilactobacillus</text>
<rect x="443.90" y="446.50" width="74.70" height="252.70" fill="#eef0ef"/>
<rect x="533.30" y="446.50" width="74.90" height="252.70" fill="#eef0ef"/>
<line x1="582.5" y1="440.3" x2="582.5" y2="699.2" stroke="#222" stroke-width="0.8" stroke-dasharray="2,1.6"/>
<rect x="443.90" y="448.10" width="62.70" height="4.10" fill="#e8952a" stroke="#111" stroke-width="0.5"/>
<text transform="translate(395.86,451.20)" style="font-size:7.0px;" fill="#1a1a1a">Pediococcus</text>
<text transform="translate(616.03,451.00)" style="font-size:6.9px;" fill="#222">0.018*</text>
<rect x="443.90" y="458.08" width="25.50" height="4.10" fill="#1b3a4f" stroke="#111" stroke-width="0.5"/>
<rect x="443.90" y="462.18" width="39.80" height="4.10" fill="#e8952a" stroke="#111" stroke-width="0.5"/>
<text transform="translate(398.59,465.28)" style="font-size:7.0px;" fill="#1a1a1a">Bacteroides</text>
<text transform="translate(616.03,465.08)" style="font-size:6.9px;" fill="#222">0.049*</text>
<rect x="443.90" y="472.16" width="16.80" height="4.10" fill="#1b3a4f" stroke="#111" stroke-width="0.5"/>
<rect x="443.90" y="476.26" width="0.70" height="4.10" fill="#e8952a" stroke="#111" stroke-width="0.5"/>
<text transform="translate(371.88,479.36)" style="font-size:7.0px;" fill="#1a1a1a">Escherichia-Shigella</text>
<text transform="translate(616.03,479.16)" style="font-size:6.9px;" fill="#222">0.016*</text>
<rect x="443.90" y="486.24" width="34.00" height="4.10" fill="#1b3a4f" stroke="#111" stroke-width="0.5"/>
<rect x="443.90" y="490.34" width="14.90" height="4.10" fill="#e8952a" stroke="#111" stroke-width="0.5"/>
<text transform="translate(402.61,493.44)" style="font-size:7.0px;" fill="#1a1a1a">Dubosiella</text>
<text transform="translate(616.03,493.24)" style="font-size:6.9px;" fill="#222">0.019*</text>
<rect x="443.90" y="500.32" width="14.90" height="4.10" fill="#1b3a4f" stroke="#111" stroke-width="0.5"/>
<rect x="443.90" y="504.42" width="2.60" height="4.10" fill="#e8952a" stroke="#111" stroke-width="0.5"/>
<text transform="translate(395.31,507.52)" style="font-size:7.0px;" fill="#1a1a1a">Mucispirillum</text>
<text transform="translate(616.03,507.32)" style="font-size:6.9px;" fill="#222">0.041*</text>
<rect x="443.90" y="514.40" width="1.40" height="4.10" fill="#1b3a4f" stroke="#111" stroke-width="0.5"/>
<rect x="443.90" y="518.50" width="7.70" height="4.10" fill="#e8952a" stroke="#111" stroke-width="0.5"/>
<text transform="translate(355.88,521.60)" style="font-size:7.0px;" fill="#1a1a1a">Prevotellaceae_UCG-001</text>
<text transform="translate(616.03,521.40)" style="font-size:6.9px;" fill="#222">0.036*</text>
<rect x="443.90" y="528.48" width="1.90" height="4.10" fill="#1b3a4f" stroke="#111" stroke-width="0.5"/>
<rect x="443.90" y="532.58" width="0.70" height="4.10" fill="#e8952a" stroke="#111" stroke-width="0.5"/>
<text transform="translate(394.69,535.68)" style="font-size:7.0px;" fill="#1a1a1a">Anaerostipes</text>
<text transform="translate(616.03,535.48)" style="font-size:6.9px;" fill="#222">0.025*</text>
<rect x="443.90" y="542.56" width="10.20" height="4.10" fill="#1b3a4f" stroke="#111" stroke-width="0.5"/>
<rect x="443.90" y="546.66" width="3.70" height="4.10" fill="#e8952a" stroke="#111" stroke-width="0.5"/>
<text transform="translate(392.11,549.76)" style="font-size:7.0px;" fill="#1a1a1a">Parasutterella</text>
<text transform="translate(616.03,549.56)" style="font-size:6.9px;" fill="#222">0.043*</text>
<rect x="443.90" y="556.64" width="4.40" height="4.10" fill="#1b3a4f" stroke="#111" stroke-width="0.5"/>
<rect x="443.90" y="560.74" width="1.60" height="4.10" fill="#e8952a" stroke="#111" stroke-width="0.5"/>
<text transform="translate(386.79,563.84)" style="font-size:7.0px;" fill="#1a1a1a">Colidextribacter</text>
<text transform="translate(616.03,563.64)" style="font-size:6.9px;" fill="#222">0.041*</text>
<rect x="443.90" y="570.72" width="1.20" height="4.10" fill="#1b3a4f" stroke="#111" stroke-width="0.5"/>
<rect x="443.90" y="574.82" width="0.90" height="4.10" fill="#e8952a" stroke="#111" stroke-width="0.5"/>
<text transform="translate(387.52,577.92)" style="font-size:7.0px;" fill="#1a1a1a">Bifidobacterium</text>
<text transform="translate(616.03,577.72)" style="font-size:6.9px;" fill="#222">0.025*</text>
<rect x="443.90" y="584.80" width="2.20" height="4.10" fill="#1b3a4f" stroke="#111" stroke-width="0.5"/>
<rect x="443.90" y="588.90" width="0.70" height="4.10" fill="#e8952a" stroke="#111" stroke-width="0.5"/>
<text transform="translate(342.59,592.00)" style="font-size:7.0px;" fill="#1a1a1a">unidentified_Lachnospiraceae</text>
<text transform="translate(616.03,591.80)" style="font-size:6.9px;" fill="#222">0.020*</text>
<rect x="443.90" y="598.88" width="0.90" height="4.10" fill="#1b3a4f" stroke="#111" stroke-width="0.5"/>
<rect x="443.90" y="602.98" width="0.50" height="4.10" fill="#e8952a" stroke="#111" stroke-width="0.5"/>
<text transform="translate(389.63,606.08)" style="font-size:7.0px;" fill="#1a1a1a">Enterorhabdus</text>
<text transform="translate(616.03,605.88)" style="font-size:6.9px;" fill="#222">0.012*</text>
<rect x="443.90" y="612.96" width="1.10" height="4.10" fill="#1b3a4f" stroke="#111" stroke-width="0.5"/>
<rect x="443.90" y="617.06" width="1.70" height="4.10" fill="#e8952a" stroke="#111" stroke-width="0.5"/>
<text transform="translate(341.82,620.16)" style="font-size:7.0px;" fill="#1a1a1a">[Eubacterium]_siraeum_group</text>
<text transform="translate(616.03,619.96)" style="font-size:6.9px;" fill="#222">0.028*</text>
<rect x="443.90" y="627.04" width="1.60" height="4.10" fill="#1b3a4f" stroke="#111" stroke-width="0.5"/>
<rect x="443.90" y="631.14" width="0.60" height="4.10" fill="#e8952a" stroke="#111" stroke-width="0.5"/>
<text transform="translate(395.13,634.24)" style="font-size:7.0px;" fill="#1a1a1a">Desulfovibrio</text>
<text transform="translate(616.03,634.04)" style="font-size:6.9px;" fill="#222">0.003**</text>
<rect x="443.90" y="641.12" width="1.00" height="4.10" fill="#1b3a4f" stroke="#111" stroke-width="0.5"/>
<rect x="443.90" y="645.22" width="0.50" height="4.10" fill="#e8952a" stroke="#111" stroke-width="0.5"/>
<text transform="translate(406.03,648.32)" style="font-size:7.0px;" fill="#1a1a1a">UCG-005</text>
<text transform="translate(616.03,648.12)" style="font-size:6.9px;" fill="#222">0.001**</text>
<rect x="443.90" y="655.20" width="1.30" height="4.10" fill="#1b3a4f" stroke="#111" stroke-width="0.5"/>
<rect x="443.90" y="659.30" width="0.60" height="4.10" fill="#e8952a" stroke="#111" stroke-width="0.5"/>
<text transform="translate(390.42,662.40)" style="font-size:7.0px;" fill="#1a1a1a">Intestinimonas</text>
<text transform="translate(616.03,662.20)" style="font-size:6.9px;" fill="#222">0.015*</text>
<rect x="443.90" y="669.28" width="1.00" height="4.10" fill="#1b3a4f" stroke="#111" stroke-width="0.5"/>
<rect x="443.90" y="673.38" width="0.50" height="4.10" fill="#e8952a" stroke="#111" stroke-width="0.5"/>
<text transform="translate(349.60,676.48)" style="font-size:7.0px;" fill="#1a1a1a">Family_XIII_AD3011_group</text>
<text transform="translate(616.03,676.28)" style="font-size:6.9px;" fill="#222">0.018*</text>
<rect x="443.90" y="683.36" width="1.00" height="4.10" fill="#1b3a4f" stroke="#111" stroke-width="0.5"/>
<rect x="443.90" y="687.46" width="0.50" height="4.10" fill="#e8952a" stroke="#111" stroke-width="0.5"/>
<text transform="translate(406.04,690.56)" style="font-size:7.0px;" fill="#1a1a1a">UCG-003</text>
<text transform="translate(616.03,690.36)" style="font-size:6.9px;" fill="#222">0.041*</text>
<line x1="553.40" y1="448.10" x2="579.40" y2="448.10" stroke="#777" stroke-width="0.9"/>
<line x1="553.40" y1="445.60" x2="553.40" y2="450.60" stroke="#777" stroke-width="0.9"/>
<line x1="579.40" y1="445.60" x2="579.40" y2="450.60" stroke="#777" stroke-width="0.9"/>
<circle cx="566.60" cy="448.10" r="4.80" fill="#e8952a" stroke="#222" stroke-width="0.5"/>
<circle cx="579.00" cy="462.18" r="4.80" fill="#e8952a" stroke="#222" stroke-width="0.5"/>
<circle cx="587.00" cy="476.26" r="4.80" fill="#1b3a4f" stroke="#222" stroke-width="0.5"/>
<circle cx="588.00" cy="490.34" r="4.80" fill="#1b3a4f" stroke="#222" stroke-width="0.5"/>
<circle cx="586.40" cy="504.42" r="4.80" fill="#1b3a4f" stroke="#222" stroke-width="0.5"/>
<circle cx="580.90" cy="518.50" r="4.80" fill="#e8952a" stroke="#222" stroke-width="0.5"/>
<circle cx="583.50" cy="532.58" r="4.80" fill="#1b3a4f" stroke="#222" stroke-width="0.5"/>
<circle cx="584.60" cy="546.66" r="4.80" fill="#1b3a4f" stroke="#222" stroke-width="0.5"/>
<circle cx="583.50" cy="560.74" r="4.80" fill="#1b3a4f" stroke="#222" stroke-width="0.5"/>
<circle cx="583.30" cy="574.82" r="4.80" fill="#1b3a4f" stroke="#222" stroke-width="0.5"/>
<circle cx="583.00" cy="588.90" r="4.80" fill="#1b3a4f" stroke="#222" stroke-width="0.5"/>
<circle cx="583.00" cy="602.98" r="4.80" fill="#1b3a4f" stroke="#222" stroke-width="0.5"/>
<circle cx="583.00" cy="617.06" r="4.80" fill="#e8952a" stroke="#222" stroke-width="0.5"/>
<circle cx="583.00" cy="631.14" r="4.80" fill="#1b3a4f" stroke="#222" stroke-width="0.5"/>
<circle cx="583.00" cy="645.22" r="4.80" fill="#1b3a4f" stroke="#222" stroke-width="0.5"/>
<circle cx="583.00" cy="659.30" r="4.80" fill="#1b3a4f" stroke="#222" stroke-width="0.5"/>
<circle cx="583.00" cy="673.38" r="4.80" fill="#1b3a4f" stroke="#222" stroke-width="0.5"/>
<circle cx="583.00" cy="687.46" r="4.80" fill="#1b3a4f" stroke="#222" stroke-width="0.5"/>
<line x1="443.90" y1="699.20" x2="518.60" y2="699.20" stroke="#111" stroke-width="1.2"/>
<line x1="443.90" y1="696.80" x2="443.90" y2="699.20" stroke="#111" stroke-width="0.9"/>
<text transform="translate(441.80,711.60) scale(1.0500,1)" style="font-size:7.2px;" fill="#222">0</text>
<line x1="481.25" y1="696.80" x2="481.25" y2="699.20" stroke="#111" stroke-width="0.9"/>
<text transform="translate(476.03,711.60) scale(1.0500,1)" style="font-size:7.2px;" fill="#222">0.1</text>
<line x1="518.60" y1="696.80" x2="518.60" y2="699.20" stroke="#111" stroke-width="0.9"/>
<text transform="translate(513.39,711.60) scale(1.0500,1)" style="font-size:7.2px;" fill="#222">0.2</text>
<text transform="translate(454.92,721.84) scale(0.9408,1)" style="font-size:7.51px" fill="#222">Means in groups</text>
<line x1="533.30" y1="699.20" x2="608.20" y2="699.20" stroke="#111" stroke-width="1.2"/>
<line x1="533.30" y1="696.80" x2="533.30" y2="699.20" stroke="#111" stroke-width="0.9"/>
<text transform="translate(526.78,711.60) scale(1.0500,1)" style="font-size:7.2px;" fill="#222">-0.5</text>
<line x1="558.00" y1="696.80" x2="558.00" y2="699.20" stroke="#111" stroke-width="0.9"/>
<text transform="translate(549.38,711.60) scale(1.0500,1)" style="font-size:7.2px;" fill="#222">-0.25</text>
<line x1="582.70" y1="696.80" x2="582.70" y2="699.20" stroke="#111" stroke-width="0.9"/>
<text transform="translate(580.60,711.60) scale(1.0500,1)" style="font-size:7.2px;" fill="#222">0</text>
<line x1="607.50" y1="696.80" x2="607.50" y2="699.20" stroke="#111" stroke-width="0.9"/>
<text transform="translate(600.15,711.60) scale(1.0500,1)" style="font-size:7.2px;" fill="#222">0.25</text>
<text transform="translate(540.22,721.80) scale(0.9590,1)" style="font-size:7.4px;" fill="#222">Difference between</text>
<text transform="translate(559.27,729.30)" style="font-size:7.4px;" fill="#222">groups</text>
<text transform="translate(545.47,434.10) scale(1.0111,1)" style="font-size:7.0px;" fill="#222">95% confidence intervals</text>
<rect x="645.90" y="558.40" width="9.00" height="7.00" fill="#1b3a4f"/>
<rect x="645.90" y="565.40" width="9.00" height="7.40" fill="#e8952a"/>
<text transform="translate(656.00,564.90)" style="font-size:7.3px;" fill="#222">P</text>
<text transform="translate(656.00,572.60)" style="font-size:7.3px;" fill="#222">ML</text>
<text transform="translate(669.61,553.18) rotate(90) scale(0.9948,1)" style="font-size:7.58px" fill="#555">P_value</text>
</svg>
</body></html>
